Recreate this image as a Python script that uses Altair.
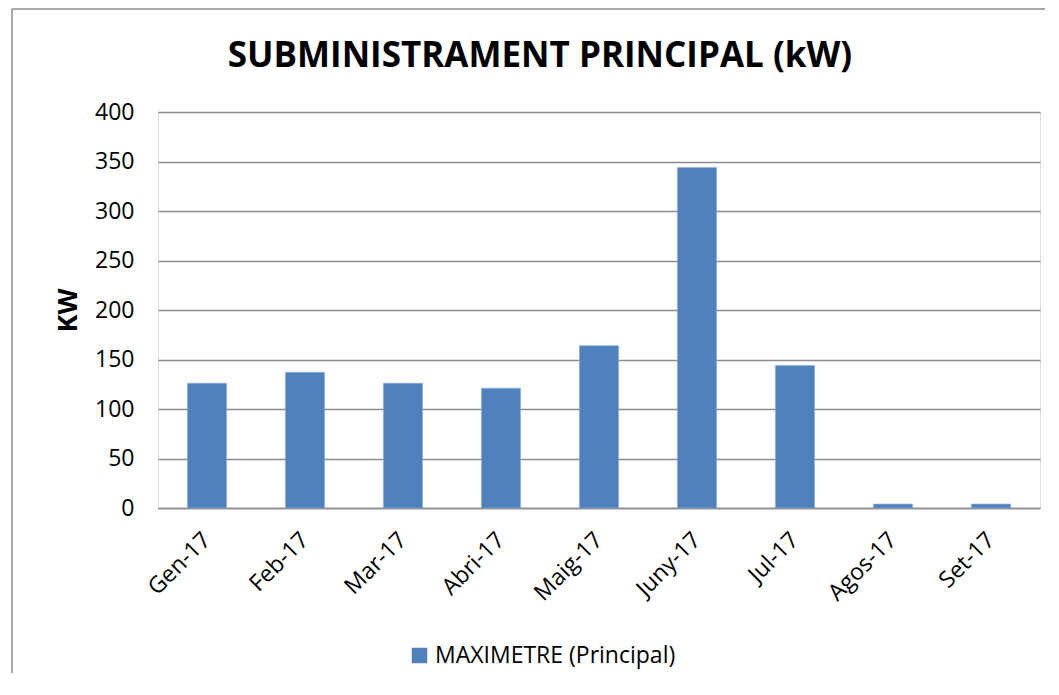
import altair as alt
import pandas as pd

months = ["Gen-17", "Feb-17", "Mar-17", "Abri-17", "Maig-17", "Juny-17", "Jul-17", "Agos-17", "Set-17"]
values = [126, 137, 126, 121, 164, 344, 144, 4, 4]
series = "MAXIMETRE (Principal)"
title_text = "SUBMINISTRAMENT PRINCIPAL (kW)"

df = pd.DataFrame({"mes": months, "kw": values, "serie": [series] * len(months)})
tdf = pd.DataFrame({"t": [title_text]})

FONT = "Open Sans"
GRID = "#8c8c8c"

bars = alt.Chart(df).mark_bar(stroke="#8fb0d8", strokeWidth=0.6).encode(
    x=alt.X("mes:N", sort=months,
            scale=alt.Scale(paddingInner=0.6, paddingOuter=0.3),
            axis=alt.Axis(title=None, labelAngle=-45, labelAlign="right", labelBaseline="middle",
                          labelFontSize=23, labelFont=FONT,
                          labelColor="#000000", ticks=False, labelPadding=28,
                          domainColor=GRID, domainWidth=1.5, grid=False)),
    y=alt.Y("kw:Q", scale=alt.Scale(domain=[0, 400], nice=False),
            axis=alt.Axis(title="KW", values=[0, 50, 100, 150, 200, 250, 300, 350, 400],
                          labelFontSize=23, labelFont=FONT, labelColor="#000000",
                          ticks=False, labelPadding=24, domain=False,
                          gridColor=GRID, gridWidth=1.5,
                          titleFont=FONT, titleFontSize=27, titleFontWeight="bold",
                          titleColor="#000000", titleAngle=-90, titleX=-90, titleY=198,
                          titleAlign="center", titleBaseline="middle")),
    color=alt.Color("serie:N", scale=alt.Scale(range=["#4F81BD"]),
                    legend=alt.Legend(title=None, orient="none", legendX=250, legendY=532,
                                      symbolType="square", symbolSize=240, symbolStrokeWidth=0,
                                      labelFont=FONT, labelFontSize=23, labelColor="#000000",
                                      labelLimit=400, symbolOffset=0)),
)

title = alt.Chart(tdf).mark_text(font=FONT, fontSize=35, fontWeight="bold", color="#000000",
                                 align="center", baseline="alphabetic").encode(
    text="t:N", x=alt.value(382), y=alt.value(-45))

frame_left = alt.Chart(tdf).mark_rule(color="#8c8c8c", strokeWidth=1.5).encode(
    x=alt.value(-146), y=alt.value(-103), y2=alt.value(561))
frame_top = alt.Chart(tdf).mark_rule(color="#8c8c8c", strokeWidth=1.5).encode(
    x=alt.value(-146), x2=alt.value(887), y=alt.value(-103))

chart = alt.layer(bars, title, frame_left, frame_top).properties(
    width=882, height=396,
    autosize=alt.AutoSizeParams(type="none"),
    padding={"left": 150, "top": 104, "right": 5, "bottom": 165},
).configure_view(stroke=None).configure(background="white")

chart.save("out.html", embed_options={"renderer": "svg", "actions": False})
